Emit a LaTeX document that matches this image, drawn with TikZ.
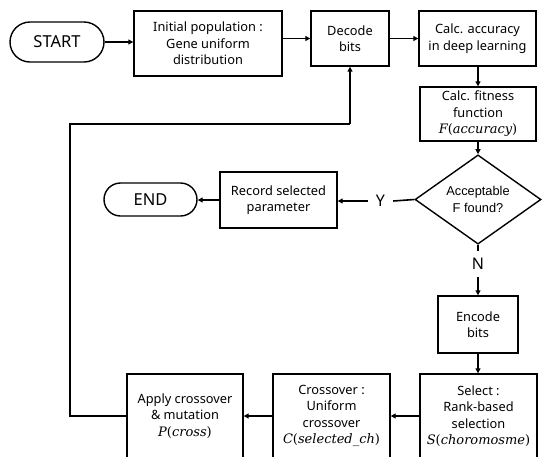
\documentclass[tikz,border=0pt]{standalone}
\usepackage{fontspec}
\setmainfont{Noto Sans}
\newfontfamily\arialfont{Liberation Sans}
\newfontfamily\mathserif{DejaVu Serif}
\newcommand{\mv}[1]{{\mathserif\itshape #1}}
\newcommand{\mathexpr}[2]{{\fontsize{13}{16.5}\selectfont\mv{#1}{\mathserif(}\mv{#2}{\mathserif)}}}
\usetikzlibrary{shapes.geometric,arrows.meta}
\begin{document}
\begin{tikzpicture}[x=1pt,y=-1pt,
  every node/.style={font=\fontsize{12.8}{16.5}\selectfont},
  box/.style={draw,line width=1.4pt,align=center,inner sep=1pt},
  term/.style={draw,line width=1.4pt,font=\fontsize{16.5}{19}\selectfont},
  conn/.style={line width=1.6pt},
  arr/.style={conn,-{Triangle[length=5pt,width=5pt]}}]
\useasboundingbox (0,0) rectangle (544,456);
\node[term,minimum width=94pt,minimum height=40pt,rounded corners=20pt] (start) at (57,42) {START};
\node[box,minimum width=148pt,minimum height=65pt] (init) at (208,43.5) {Initial population :\\Gene uniform\\distribution};
\node[box,minimum width=78pt,minimum height=55pt] (decode) at (350,38.5) {Decode\\bits};
\node[box,minimum width=117pt,minimum height=55pt] (acc) at (477.5,38.5) {Calc. accuracy\\in deep learning};
\node[box,minimum width=116pt,minimum height=54pt] (fit) at (478,114) {Calc. fitness\\function\\\mathexpr{F}{accuracy}};
\node[draw,line width=1.4pt,diamond,minimum width=126pt,minimum height=75pt,inner sep=0pt,align=center,font=\arialfont\fontsize{12.8}{16.5}\selectfont] (dec) at (478,199.5) {Acceptable\\F found?};
\node[box,minimum width=117pt,minimum height=56pt] (rec) at (278.5,200) {Record selected\\parameter};
\node[term,minimum width=93pt,minimum height=33pt,rounded corners=16.5pt] (end) at (150.5,199.5) {END};
\node[inner sep=0pt,minimum width=25pt,font=\fontsize{16}{18}\selectfont] (Y) at (380.5,201) {Y};
\node[inner sep=0pt,minimum height=26pt,font=\fontsize{16}{18}\selectfont] (N) at (478,264) {N};
\node[box,minimum width=80pt,minimum height=57pt] (enc) at (478,324.5) {Encode\\bits};
\node[box,minimum width=117pt,minimum height=84pt] (sel) at (478.5,416) {Select :\\Rank-based\\selection\\\mathexpr{S}{choromosme}};
\node[box,minimum width=117pt,minimum height=84pt] (cross) at (331.5,416) {Crossover :\\Uniform\\crossover\\\mathexpr{C}{selected\_ch}};
\node[box,minimum width=116pt,minimum height=84pt] (apply) at (185,416) {Apply crossover\\\& mutation\\\mathexpr{P}{cross}};
\coordinate (l1) at (70,416);
\coordinate (l2) at (70,124);
\coordinate (l3) at (350,124);
\draw[arr] (start.east) -- (start.east -| init.west);
\draw[arr] (init.east |- decode.west) -- (decode.west);
\draw[arr] (decode.east) -- (acc.west);
\draw[arr] (acc.south -| fit.north) -- (fit.north);
\draw[arr] (fit.south) -- (dec.north);
\draw[conn] (dec.west) -- (Y.east);
\draw[arr] (Y.west) -- (Y.west -| rec.east);
\draw[arr] (rec.west) -- (rec.west -| end.east);
\draw[conn] (dec.south) -- (N.north);
\draw[arr] (N.south) -- (enc.north);
\draw[arr] (enc.south) -- (enc.south |- sel.north);
\draw[arr] (sel.west) -- (cross.east);
\draw[arr] (cross.west) -- (apply.east);
\draw[conn] (apply.west) -- (l1) -- (l2) -- (l3);
\draw[arr] (l3) -- (decode.south);
\end{tikzpicture}
\end{document}
